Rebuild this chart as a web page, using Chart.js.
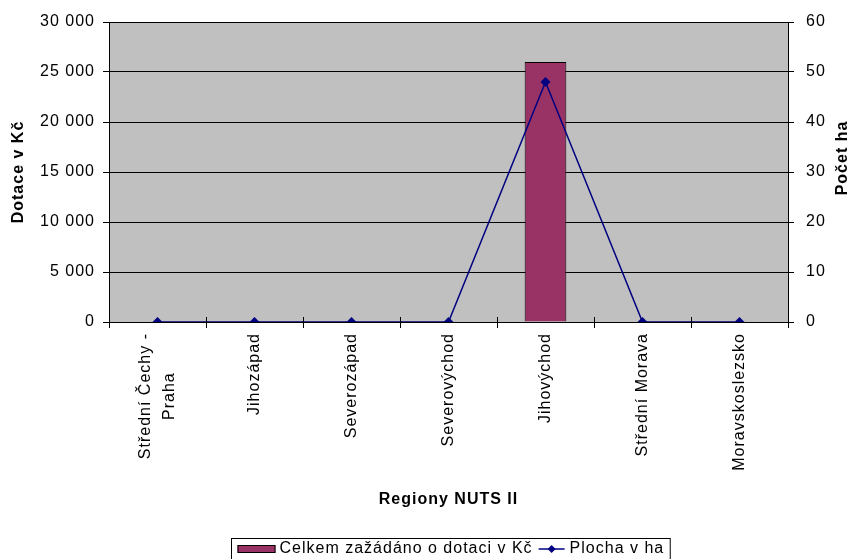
<!DOCTYPE html>
<html>
<head>
<meta charset="utf-8">
<script src="https://cdn.jsdelivr.net/npm/chart.js@4"></script>
<style>
  html, body { margin: 0; padding: 0; background: #fff; }
</style>
</head>
<body>
<canvas id="chart" width="852" height="559"></canvas>
<script>
// data
const regions = [['Střední Čechy -', 'Praha'], 'Jihozápad', 'Severozápad', 'Severovýchod', 'Jihovýchod', 'Střední Morava', 'Moravskoslezsko'];
const dotace = [0, 0, 0, 0, 26000, 0, 0];   // Celkem zažádáno o dotaci v Kč
const plocha = [0, 0, 0, 0, 48, 0, 0];      // Plocha v ha
const dotaceLabel = 'Celkem zažádáno o dotaci v Kč';
const plochaLabel = 'Plocha v ha';

const FONT = "'Liberation Sans', Arial, sans-serif";
const BAR_COLOR = '#993366';
const LINE_COLOR = '#000080';

function withSpaces(v) {
    return String(v).replace(/\B(?=(\d{3})+(?!\d))/g, ' ');
}

// gray plot area + wider letter spacing like the original rendering
const backgroundPlugin = {
    id: 'plotBackground',
    beforeDraw(chart) {
        const { ctx, chartArea } = chart;
        ctx.letterSpacing = '1px';
        ctx.save();
        ctx.fillStyle = '#C0C0C0';
        ctx.fillRect(chartArea.left, chartArea.top, chartArea.right - chartArea.left, chartArea.bottom - chartArea.top);
        ctx.restore();
    }
};

// category labels, right axis title and the boxed legend
const extrasPlugin = {
    id: 'extras',
    afterDraw(chart) {
        const ctx = chart.ctx;
        const xs = chart.scales.x;
        ctx.save();
        ctx.letterSpacing = '1px';
        ctx.fillStyle = '#000';

        // tick marks cross the axis a little, as in the original
        ctx.strokeStyle = '#000';
        ctx.lineWidth = 1;
        ctx.beginPath();
        for (let i = 0; i <= regions.length; i++) {
            const px = Math.round(xs.getPixelForValue(i - 0.5)) + 0.5;
            ctx.moveTo(px, xs.top - 5);
            ctx.lineTo(px, xs.top);
        }
        ctx.stroke();

        // rotated category labels, top end just under the axis
        ctx.font = '16px ' + FONT;
        ctx.textAlign = 'center';
        ctx.textBaseline = 'middle';
        regions.forEach((lab, i) => {
            const lines = Array.isArray(lab) ? lab : [lab];
            const w = Math.max(...lines.map(l => ctx.measureText(l).width));
            const px = xs.getPixelForTick(i);
            const lh = 24;
            lines.forEach((l, j) => {
                ctx.save();
                ctx.translate(px + (j - (lines.length - 1) / 2) * lh, xs.top + 11 + w / 2);
                ctx.rotate(-Math.PI / 2);
                ctx.fillText(l, 0, 0);
                ctx.restore();
            });
        });

        // right axis title, reads bottom to top
        ctx.font = 'bold 16px ' + FONT;
        ctx.save();
        ctx.translate(843, 158);
        ctx.rotate(-Math.PI / 2);
        ctx.fillText('Počet ha', 0, 0);
        ctx.restore();

        // legend
        ctx.font = '16px ' + FONT;
        ctx.textAlign = 'left';
        ctx.textBaseline = 'alphabetic';
        const w1 = ctx.measureText(dotaceLabel).width;
        const w2 = ctx.measureText(plochaLabel).width;
        const total = 6 + 38 + 4 + w1 + 6 + 26 + 5 + w2 + 6;
        const left = Math.round(450 - total / 2) + 0.5;
        const top = 538.5;
        ctx.strokeStyle = '#000';
        ctx.lineWidth = 1;
        ctx.strokeRect(left, top, total, 40);

        let x = left + 6;
        ctx.fillStyle = BAR_COLOR;
        ctx.fillRect(x, 545, 38, 8);
        ctx.strokeRect(x + 0.5, 545.5, 37, 7);
        x += 38 + 4;
        ctx.fillStyle = '#000';
        ctx.fillText(dotaceLabel, x, 553);
        x += w1 + 6;

        ctx.strokeStyle = LINE_COLOR;
        ctx.lineWidth = 1.5;
        ctx.beginPath();
        ctx.moveTo(x, 549);
        ctx.lineTo(x + 26, 549);
        ctx.stroke();
        ctx.fillStyle = LINE_COLOR;
        ctx.beginPath();
        ctx.moveTo(x + 13, 545);
        ctx.lineTo(x + 17, 549);
        ctx.lineTo(x + 13, 553);
        ctx.lineTo(x + 9, 549);
        ctx.closePath();
        ctx.fill();
        x += 26 + 5;
        ctx.fillStyle = '#000';
        ctx.fillText(plochaLabel, x, 553);
        ctx.restore();
    }
};

new Chart(document.getElementById('chart'), {
    data: {
        labels: regions,
        datasets: [
            {
                type: 'line',
                label: plochaLabel,
                data: plocha,
                yAxisID: 'y1',
                order: 1,
                borderColor: LINE_COLOR,
                borderWidth: 1.5,
                pointStyle: 'rectRot',
                pointRadius: 5,
                pointBackgroundColor: LINE_COLOR,
                pointBorderColor: LINE_COLOR,
                pointBorderWidth: 0,
                tension: 0,
            },
            {
                type: 'bar',
                label: dotaceLabel,
                data: dotace,
                yAxisID: 'y',
                order: 2,
                backgroundColor: BAR_COLOR,
                borderColor: '#000',
                borderWidth: 1,
                barPercentage: 0.43,
                categoryPercentage: 1,
            },
        ],
    },
    options: {
        responsive: false,
        animation: false,
        layout: { padding: { top: 22, bottom: 50, left: 0, right: 0 } },
        plugins: {
            legend: { display: false },
            tooltip: { enabled: false },
        },
        scales: {
            x: {
                offset: true,
                grid: { offset: true, drawOnChartArea: false, color: '#000', tickLength: 6 },
                border: { color: '#000' },
                ticks: { display: false },
                title: {
                    display: true,
                    text: 'Regiony NUTS II',
                    color: '#000',
                    font: { family: FONT, size: 16, weight: 'bold' },
                    padding: { top: 0, bottom: 0 },
                },
                afterFit: (s) => { s.height = 187; },
            },
            y: {
                position: 'left',
                min: 0,
                max: 30000,
                ticks: {
                    stepSize: 5000,
                    color: '#000',
                    padding: 8,
                    font: { family: FONT, size: 16 },
                    callback: (v) => withSpaces(v),
                },
                grid: { color: '#000', tickLength: 6 },
                border: { color: '#000' },
                title: {
                    display: true,
                    text: 'Dotace v Kč',
                    color: '#000',
                    font: { family: FONT, size: 16, weight: 'bold' },
                    padding: { top: 9, bottom: 0 },
                },
                afterFit: (s) => { s.width = 109; },
            },
            y1: {
                position: 'right',
                min: 0,
                max: 60,
                ticks: {
                    stepSize: 10,
                    color: '#000',
                    padding: 12,
                    font: { family: FONT, size: 16 },
                },
                grid: { drawOnChartArea: false, color: '#000', tickLength: 6 },
                border: { color: '#000' },
                afterFit: (s) => { s.width = 64; },
            },
        },
    },
    plugins: [backgroundPlugin, extrasPlugin],
});
</script>
</body>
</html>
